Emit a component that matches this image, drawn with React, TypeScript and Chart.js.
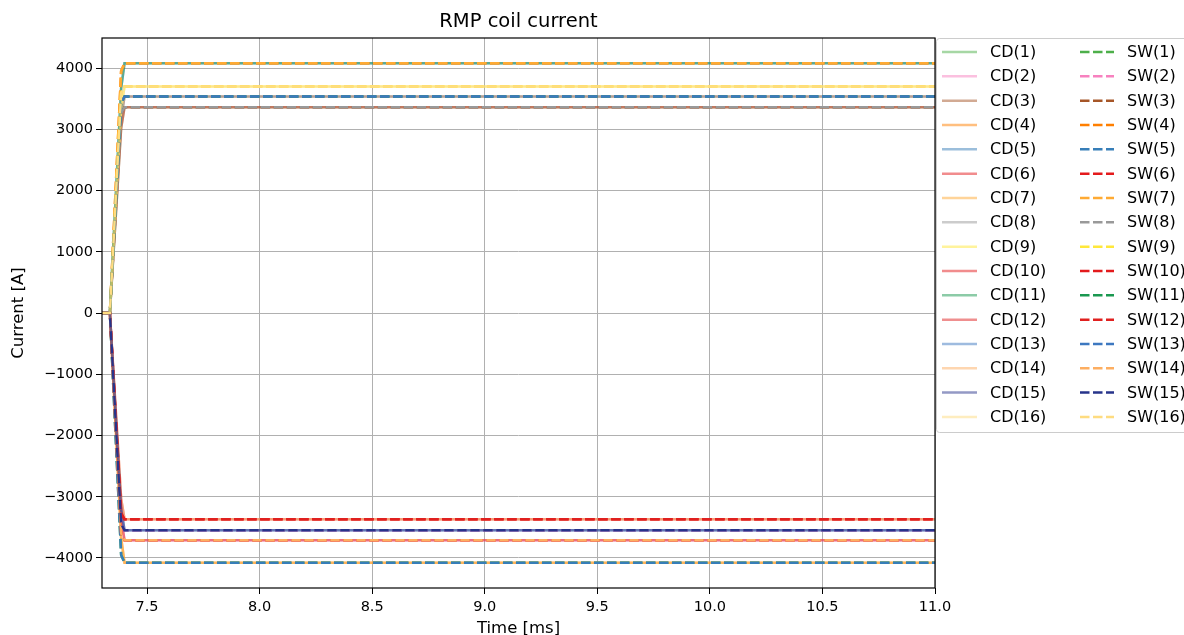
import React, { useEffect, useRef } from "react";
import { Chart, registerables } from "chart.js";

Chart.register(...registerables);

// ---------- data ----------
const coilLabels = ["1","2","3","4","5","6","7","8","9","10","11","12","13","14","15","16"];
const timeMs = [7.3, 7.335, 7.385, 7.4, 11.0];

// CD coil currents [A] at each time sample
const cdCurrent = [
  [0, 0, 3020, 3360, 3360],
  [0, 0, -3340, -3711, -3711],
  [0, 0, 3180, 3535, 3535],
  [0, 0, -3670, -4077, -4077],
  [0, 0, 3670, 4077, 4077],
  [0, 0, 3020, 3360, 3360],
  [0, 0, -3670, -4077, -4077],
  [0, 0, 3180, 3535, 3535],
  [0, 0, 3330, 3700, 3700],
  [0, 0, -3030, -3368, -3368],
  [0, 0, 3670, 4077, 4077],
  [0, 0, -3340, -3711, -3711],
  [0, 0, -3190, -3548, -3548],
  [0, 0, -3030, -3368, -3368],
  [0, 0, -3190, -3548, -3548],
  [0, 0, 3330, 3700, 3700],
];

// SW coil currents [A] at each time sample
const swCurrent = [
  [0, 0, -3950, -4077, -4077],
  [0, 0, -3440, -3548, -3548],
  [0, 0, 3260, 3360, 3360],
  [0, 0, 3950, 4077, 4077],
  [0, 0, -3950, -4077, -4077],
  [0, 0, -3600, -3711, -3711],
  [0, 0, 3950, 4077, 4077],
  [0, 0, 3260, 3360, 3360],
  [0, 0, 3590, 3700, 3700],
  [0, 0, -3270, -3368, -3368],
  [0, 0, 3430, 3535, 3535],
  [0, 0, -3270, -3368, -3368],
  [0, 0, 3430, 3535, 3535],
  [0, 0, -3600, -3711, -3711],
  [0, 0, -3440, -3548, -3548],
  [0, 0, 3590, 3700, 3700],
];

const xTicks = [7.5, 8.0, 8.5, 9.0, 9.5, 10.0, 10.5, 11.0];
const yTicks = [-4000, -3000, -2000, -1000, 0, 1000, 2000, 3000, 4000];

const swColors = [
  "#4daf4a", "#f781bf", "#a65628", "#ff7f00", "#377eb8", "#e41a1c", "#ffaa33", "#999999",
  "#ffe83a", "#e31a1c", "#1a9850", "#e0201f", "#3d78c0", "#fdae61", "#27348b", "#fedc80",
];

const FONT = "'DejaVu Sans', sans-serif";

function withAlpha(hex: string, a: number) {
  const r = parseInt(hex.slice(1, 3), 16);
  const g = parseInt(hex.slice(3, 5), 16);
  const b = parseInt(hex.slice(5, 7), 16);
  return `rgba(${r},${g},${b},${a})`;
}

const fmtY = (v: number) => (v < 0 ? "\u2212" + Math.abs(v) : String(v));

const decorPlugin = {
  id: "decor",
  afterDraw(chart: any) {
    const { ctx, chartArea } = chart;
    const { left, right, top, bottom } = chartArea;
    ctx.save();
    // frame
    ctx.strokeStyle = "#000";
    ctx.lineWidth = 1.2;
    ctx.strokeRect(left, top, right - left, bottom - top);
    // title
    ctx.fillStyle = "#000";
    ctx.font = `19.5px ${FONT}`;
    ctx.textAlign = "center";
    ctx.textBaseline = "middle";
    ctx.fillText("RMP coil current", (left + right) / 2, 22);
    // axis labels
    ctx.font = `16.5px ${FONT}`;
    ctx.fillText("Time [ms]", (left + right) / 2, 629);
    ctx.translate(19, (top + bottom) / 2);
    ctx.rotate(-Math.PI / 2);
    ctx.fillText("Current [A]", 0, 0);
    ctx.restore();

    // legend
    ctx.save();
    const bx = 936.5, by = 38.5, bw = 270, bh = 394;
    ctx.fillStyle = "rgba(255,255,255,0.8)";
    ctx.strokeStyle = "#cccccc";
    ctx.lineWidth = 1;
    ctx.beginPath();
    ctx.roundRect(bx, by, bw, bh, 3);
    ctx.fill();
    ctx.stroke();
    ctx.font = `16px ${FONT}`;
    ctx.textAlign = "left";
    ctx.textBaseline = "middle";
    for (let i = 0; i < coilLabels.length; i++) {
      const y = 52 + i * 24.33;
      ctx.lineWidth = 2.5;
      ctx.setLineDash([]);
      ctx.strokeStyle = withAlpha(swColors[i], 0.5);
      ctx.beginPath();
      ctx.moveTo(942, y);
      ctx.lineTo(977, y);
      ctx.stroke();
      ctx.fillStyle = "#000";
      ctx.fillText(`CD(${coilLabels[i]})`, 990, y + 1);
      ctx.setLineDash([9.5, 3.5]);
      ctx.strokeStyle = swColors[i];
      ctx.beginPath();
      ctx.moveTo(1080, y);
      ctx.lineTo(1114, y);
      ctx.stroke();
      ctx.fillText(`SW(${coilLabels[i]})`, 1127, y + 1);
    }
    ctx.restore();
  },
};

export default function App() {
  const ref = useRef<HTMLCanvasElement>(null);
  useEffect(() => {
    if (!ref.current) return;
    const datasets: any[] = [];
    coilLabels.forEach((c, i) => {
      datasets.push({
        label: `CD(${c})`,
        data: timeMs.map((t, k) => ({ x: t, y: cdCurrent[i][k] })),
        borderColor: withAlpha(swColors[i], 0.5),
        borderWidth: 2.5,
        pointRadius: 0,
        fill: false,
        tension: 0,
        order: 100 - i,
      });
    });
    coilLabels.forEach((c, i) => {
      datasets.push({
        label: `SW(${c})`,
        data: timeMs.map((t, k) => ({ x: t, y: swCurrent[i][k] })),
        borderColor: swColors[i],
        borderWidth: 2.5,
        borderDash: [9.5, 3.5],
        pointRadius: 0,
        fill: false,
        tension: 0,
        order: 50 - i,
      });
    });
    const chart = new Chart(ref.current, {
      type: "line",
      data: { datasets },
      options: {
        animation: false,
        responsive: false,
        maintainAspectRatio: false,
        layout: { padding: { left: 0, right: 249, top: 38, bottom: 0 } },
        plugins: { legend: { display: false }, tooltip: { enabled: false }, title: { display: false } },
        scales: {
          x: {
            type: "linear",
            min: 7.3,
            max: 11.0,
            afterBuildTicks: (s: any) => { s.ticks = xTicks.map((v) => ({ value: v })); },
            afterFit: (s: any) => { s.height = 47; },
            ticks: {
              callback: (v: any) => Number(v).toFixed(1),
              color: "#000",
              font: { family: FONT, size: 14.5 },
              padding: 5,
              autoSkip: false,
              maxRotation: 0,
            },
            grid: { color: "#b0b0b0", lineWidth: 1, tickLength: 6, tickColor: "#000", tickWidth: 1 },
            border: { display: false },
          },
          y: {
            type: "linear",
            min: -4490,
            max: 4490,
            afterBuildTicks: (s: any) => { s.ticks = yTicks.map((v) => ({ value: v })); },
            afterFit: (s: any) => { s.width = 102; },
            ticks: {
              callback: (v: any) => fmtY(Number(v)),
              color: "#000",
              font: { family: FONT, size: 14.5 },
              padding: 3,
              autoSkip: false,
            },
            grid: { color: "#b0b0b0", lineWidth: 1, tickLength: 6, tickColor: "#000", tickWidth: 1 },
            border: { display: false },
          },
        },
      },
      plugins: [decorPlugin],
    });
    return () => chart.destroy();
  }, []);
  return (
    <div style={{ position: "fixed", left: 0, top: 0, width: 1184, height: 635, background: "#fff" }}>
      <canvas ref={ref} width={1184} height={635} style={{ width: 1184, height: 635, display: "block" }} />
    </div>
  );
}
